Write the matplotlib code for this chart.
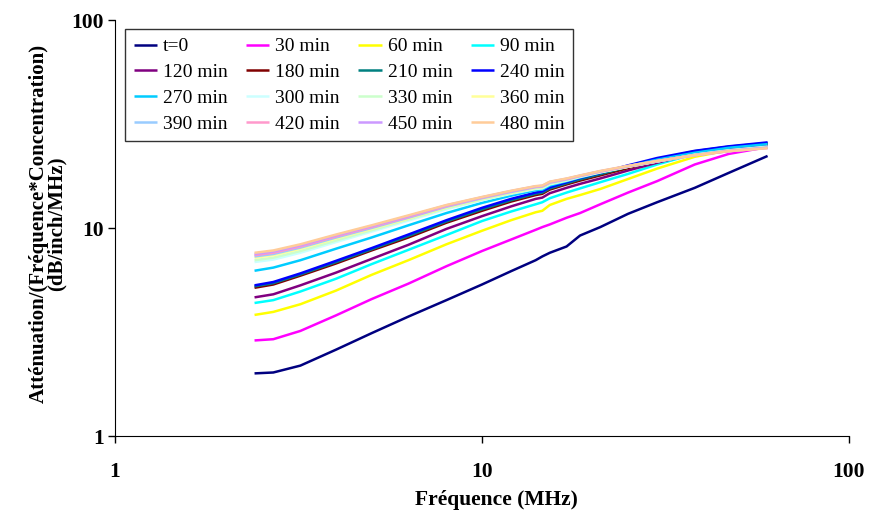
import matplotlib
matplotlib.use("Agg")
import matplotlib.pyplot as plt
from matplotlib.ticker import FixedLocator, NullLocator, FixedFormatter

freq = [2.4, 2.7, 3.2, 4.0, 5.0, 6.3, 8.0, 10, 12, 14, 14.6, 15.3, 17, 18.5, 21, 25, 30, 38, 47, 60]

t0 =     [2.0, 2.02, 2.18, 2.6, 3.12, 3.75, 4.5, 5.35, 6.2, 7.0, 7.3, 7.6, 8.15, 9.2, 10.1, 11.7, 13.3, 15.6, 18.4, 22.2]
m30 =    [2.88, 2.92, 3.2, 3.8, 4.55, 5.4, 6.55, 7.75, 8.8, 9.8, 10.1, 10.4, 11.2, 11.8, 13.0, 14.8, 16.8, 20.2, 22.7, 24.5]
m60 =    [3.82, 3.95, 4.3, 5.0, 5.95, 7.0, 8.35, 9.7, 10.9, 11.9, 12.1, 12.9, 13.8, 14.4, 15.4, 17.2, 19.3, 22.0, 23.6, 24.8]
m90 =    [4.36, 4.5, 4.95, 5.7, 6.7, 7.85, 9.25, 10.8, 12.0, 13.0, 13.3, 13.9, 14.8, 15.5, 16.6, 18.2, 20.2, 22.7, 24.0, 25.3]
m120 =   [4.64, 4.8, 5.3, 6.1, 7.1, 8.3, 9.9, 11.4, 12.7, 13.8, 14.0, 14.7, 15.6, 16.3, 17.3, 18.9, 20.6, 22.8, 24.0, 25.0]
m180 =   [5.16, 5.35, 5.9, 6.75, 7.8, 9.0, 10.6, 12.1, 13.4, 14.4, 14.6, 15.3, 16.2, 16.9, 17.9, 19.4, 21.2, 23.3, 24.5, 25.5]
m210 =   [5.24, 5.43, 5.98, 6.85, 7.9, 9.15, 10.75, 12.3, 13.6, 14.6, 14.8, 15.5, 16.4, 17.15, 18.15, 19.7, 21.4, 23.4, 24.6, 25.6]
m240 =   [5.30, 5.5, 6.05, 6.95, 8.0, 9.3, 10.9, 12.5, 13.8, 14.8, 15.0, 15.7, 16.6, 17.4, 18.4, 20.0, 21.7, 23.5, 24.7, 25.8]
m270 =   [6.23, 6.45, 7.0, 7.95, 9.0, 10.3, 11.8, 13.2, 14.3, 15.2, 15.3, 16.0, 16.8, 17.5, 18.5, 19.8, 21.3, 23.0, 24.3, 25.3]
m300 =   [6.86, 7.05, 7.6, 8.55, 9.6, 10.85, 12.3, 13.6, 14.6, 15.4, 15.5, 16.2, 16.9, 17.6, 18.5, 19.7, 20.9, 22.5, 23.6, 24.6]
m330 =   [7.0, 7.2, 7.75, 8.7, 9.75, 11.0, 12.45, 13.7, 14.7, 15.5, 15.6, 16.3, 17.0, 17.7, 18.6, 19.7, 20.9, 22.5, 23.6, 24.5]
m360 =   [7.2, 7.4, 7.95, 8.9, 9.9, 11.1, 12.55, 13.8, 14.8, 15.6, 15.7, 16.4, 17.1, 17.7, 18.6, 19.7, 20.9, 22.4, 23.5, 24.4]
m390 =   [7.3, 7.5, 8.05, 9.0, 10.0, 11.2, 12.65, 13.9, 14.9, 15.7, 15.8, 16.5, 17.1, 17.8, 18.7, 19.8, 20.9, 22.4, 23.5, 24.4]
m420 =   [7.4, 7.6, 8.15, 9.1, 10.1, 11.3, 12.75, 14.0, 15.0, 15.8, 15.9, 16.6, 17.2, 17.8, 18.7, 19.8, 21.0, 22.4, 23.4, 24.3]
m450 =   [7.5, 7.7, 8.25, 9.2, 10.2, 11.4, 12.85, 14.05, 15.05, 15.85, 15.95, 16.65, 17.25, 17.85, 18.75, 19.85, 21.0, 22.4, 23.4, 24.25]
m480 =   [7.6, 7.8, 8.35, 9.3, 10.3, 11.5, 12.9, 14.1, 15.1, 15.9, 16.0, 16.7, 17.3, 17.9, 18.8, 19.9, 21.0, 22.4, 23.4, 24.2]

labels = ["t=0", "30 min", "60 min", "90 min", "120 min", "180 min", "210 min", "240 min",
          "270 min", "300 min", "330 min", "360 min", "390 min", "420 min", "450 min", "480 min"]
series = [t0, m30, m60, m90, m120, m180, m210, m240, m270, m300, m330, m360, m390, m420, m450, m480]
colors = ["#000080", "#FF00FF", "#FFFF00", "#00FFFF", "#800080", "#800000", "#008080", "#0000FF",
          "#00CCFF", "#CCFFFF", "#CCFFCC", "#FFFF99", "#99CCFF", "#FF99CC", "#CC99FF", "#FFCC99"]

x_ticks = [1, 10, 100]
y_ticks = [1, 10, 100]

plt.rcParams['font.family'] = ['Liberation Serif', 'DejaVu Serif']

fig = plt.figure(figsize=(8.87, 5.14), dpi=100)
ax = fig.add_axes([115/887, 1-436/514, (849-115)/887, (436-20)/514])

handles = []
for vals, lab, col in zip(series, labels, colors):
    h, = ax.plot(freq, vals, color=col, lw=1.8, label=lab, solid_joinstyle='round',
                 solid_capstyle='butt')
    handles.append(h)

ax.set_xscale('log')
ax.set_yscale('log')
ax.set_xlim(1, 100)
ax.set_ylim(1, 100)
ax.xaxis.set_major_locator(FixedLocator(x_ticks))
ax.yaxis.set_major_locator(FixedLocator(y_ticks))
ax.xaxis.set_major_formatter(FixedFormatter([str(v) for v in x_ticks]))
ax.yaxis.set_major_formatter(FixedFormatter([str(v) for v in y_ticks]))
ax.xaxis.set_minor_locator(NullLocator())
ax.yaxis.set_minor_locator(NullLocator())
ax.tick_params(axis='both', which='major', direction='out', length=5, width=1,
               labelsize=15.5)
ax.tick_params(axis='x', pad=14)
ax.tick_params(axis='y', pad=3)
for lbl in ax.get_xticklabels() + ax.get_yticklabels():
    lbl.set_fontweight('bold')
ax.spines['top'].set_visible(False)
ax.spines['right'].set_visible(False)

ax.set_xlabel("Fréquence (MHz)", fontsize=15.5, fontweight='bold')
ax.xaxis.set_label_coords((496 - 115) / 734, -0.13)
ax.set_ylabel("Atténuation/(Fréquence*Concentration)\n(dB/inch/MHz)", fontsize=15,
              fontweight='bold', linespacing=0.85)
ax.yaxis.set_label_coords(-0.066, 0.51)

order = [4 * i + j for j in range(4) for i in range(4)]
leg = ax.legend([handles[k] for k in order], [labels[k] for k in order], ncol=4,
                loc='upper left', bbox_to_anchor=(10/734, 1 - 9/416), borderaxespad=0,
                fontsize=14, frameon=True, fancybox=False, edgecolor='black',
                handlelength=1.2, handletextpad=0.3, columnspacing=0.95,
                labelspacing=0.42, borderpad=0.45)
leg.get_frame().set_linewidth(1.0)

fig.savefig("out.png", dpi=100)
